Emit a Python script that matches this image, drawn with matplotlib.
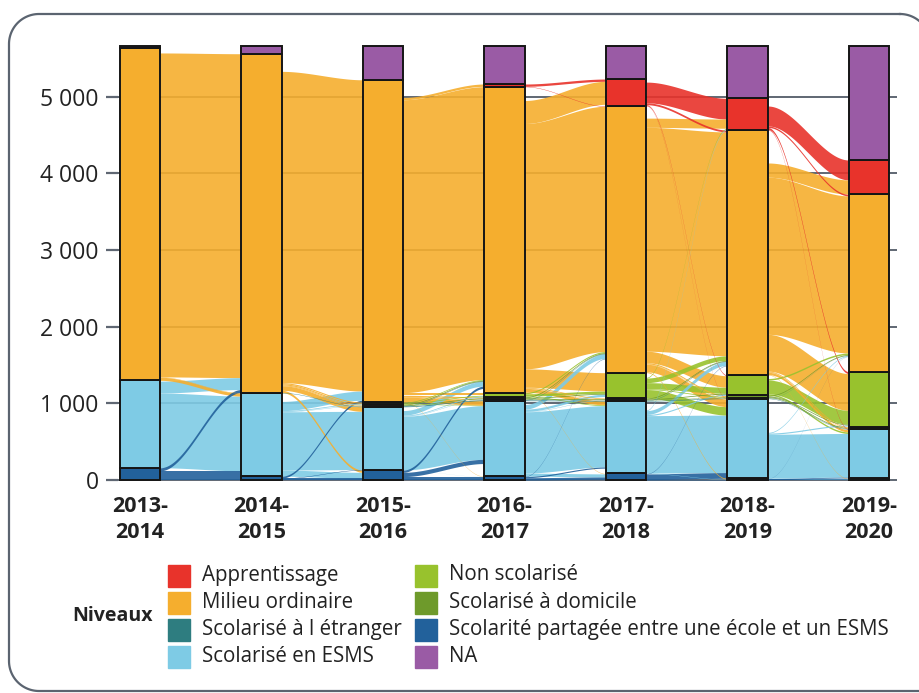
import numpy as np
import matplotlib.pyplot as plt
from matplotlib.patches import Rectangle

plt.rcParams['font.family'] = ['Open Sans', 'DejaVu Sans']

years = ['2013-\n2014', '2014-\n2015', '2015-\n2016', '2016-\n2017',
         '2017-\n2018', '2018-\n2019', '2019-\n2020']

keys = ['App', 'MO', 'NS', 'Dom', 'Etr', 'ESMS', 'Part', 'NA']
labels = {'App': 'Apprentissage', 'MO': 'Milieu ordinaire', 'NS': 'Non scolarisé',
          'Dom': 'Scolarisé à domicile', 'Etr': 'Scolarisé à l étranger',
          'ESMS': 'Scolarisé en ESMS',
          'Part': 'Scolarité partagée entre une école et un ESMS', 'NA': 'NA'}
colors = {'App': '#e8332b', 'MO': '#f5ae2e', 'NS': '#98c22d', 'Dom': '#6e9a2b',
          'Etr': '#2e7d80', 'ESMS': '#7ecbe5', 'Part': '#22619b', 'NA': '#9a5ba5'}
# bottom -> top
stack = ['Part', 'ESMS', 'Etr', 'Dom', 'NS', 'MO', 'App', 'NA']
legend_order = ['App', 'MO', 'Etr', 'ESMS', 'NS', 'Dom', 'Part', 'NA']

# number of pupils per level and per school year
counts = [
    {'App': 0, 'MO': 4340, 'NS': 0, 'Dom': 0, 'Etr': 0, 'ESMS': 1140, 'Part': 160, 'NA': 20},
    {'App': 0, 'MO': 4420, 'NS': 0, 'Dom': 0, 'Etr': 5, 'ESMS': 1085, 'Part': 50, 'NA': 100},
    {'App': 0, 'MO': 4204, 'NS': 25, 'Dom': 20, 'Etr': 15, 'ESMS': 826, 'Part': 130, 'NA': 440},
    {'App': 35, 'MO': 3990, 'NS': 55, 'Dom': 30, 'Etr': 20, 'ESMS': 985, 'Part': 50, 'NA': 495},
    {'App': 350, 'MO': 3480, 'NS': 330, 'Dom': 25, 'Etr': 15, 'ESMS': 945, 'Part': 85, 'NA': 430},
    {'App': 413, 'MO': 3195, 'NS': 266, 'Dom': 30, 'Etr': 12, 'ESMS': 1040, 'Part': 22, 'NA': 682},
    {'App': 448, 'MO': 2313, 'NS': 718, 'Dom': 20, 'Etr': 10, 'ESMS': 645, 'Part': 20, 'NA': 1486},
]

# transitions between consecutive years: (from, to, pupils)
flows_13_14 = [('MO', 'MO', 4225), ('MO', 'NA', 70), ('MO', 'ESMS', 40), ('MO', 'Etr', 5),
               ('ESMS', 'ESMS', 975), ('ESMS', 'MO', 155), ('ESMS', 'NA', 10),
               ('Part', 'Part', 50), ('Part', 'MO', 40), ('Part', 'ESMS', 70),
               ('NA', 'NA', 20)]
flows_14_15 = [('MO', 'MO', 4060), ('MO', 'NA', 230), ('MO', 'NS', 15), ('MO', 'Dom', 15),
               ('MO', 'Etr', 10), ('MO', 'ESMS', 60), ('MO', 'Part', 30),
               ('Etr', 'Etr', 5),
               ('ESMS', 'ESMS', 760), ('ESMS', 'MO', 120), ('ESMS', 'NA', 110),
               ('ESMS', 'Part', 80), ('ESMS', 'NS', 10), ('ESMS', 'Dom', 5),
               ('Part', 'MO', 24), ('Part', 'ESMS', 6), ('Part', 'Part', 20),
               ('NA', 'NA', 100)]
flows_15_16 = [('MO', 'MO', 3820), ('MO', 'NA', 230), ('MO', 'App', 30), ('MO', 'NS', 35),
               ('MO', 'Dom', 15), ('MO', 'Etr', 10), ('MO', 'ESMS', 60), ('MO', 'Part', 4),
               ('NS', 'NS', 10), ('NS', 'MO', 10), ('NS', 'ESMS', 5),
               ('Dom', 'Dom', 10), ('Dom', 'MO', 10),
               ('Etr', 'Etr', 10), ('Etr', 'MO', 5),
               ('ESMS', 'ESMS', 700), ('ESMS', 'MO', 60), ('ESMS', 'NA', 50),
               ('ESMS', 'NS', 10), ('ESMS', 'Dom', 5), ('ESMS', 'Part', 1),
               ('Part', 'Part', 45), ('Part', 'ESMS', 55), ('Part', 'MO', 30),
               ('NA', 'NA', 215), ('NA', 'MO', 55), ('NA', 'ESMS', 165), ('NA', 'App', 5)]
flows_16_17 = [('App', 'App', 30), ('App', 'MO', 5),
               ('MO', 'MO', 3200), ('MO', 'App', 300), ('MO', 'NA', 180), ('MO', 'NS', 240),
               ('MO', 'Dom', 10), ('MO', 'Etr', 5), ('MO', 'ESMS', 50), ('MO', 'Part', 5),
               ('NS', 'NS', 30), ('NS', 'MO', 15), ('NS', 'ESMS', 10),
               ('Dom', 'Dom', 10), ('Dom', 'MO', 10), ('Dom', 'NS', 10),
               ('Etr', 'Etr', 10), ('Etr', 'MO', 5), ('Etr', 'NA', 5),
               ('ESMS', 'ESMS', 800), ('ESMS', 'MO', 60), ('ESMS', 'NA', 50),
               ('ESMS', 'NS', 30), ('ESMS', 'Part', 40), ('ESMS', 'Dom', 5),
               ('Part', 'Part', 30), ('Part', 'ESMS', 15), ('Part', 'MO', 5),
               ('NA', 'NA', 195), ('NA', 'MO', 180), ('NA', 'App', 20), ('NA', 'NS', 20),
               ('NA', 'ESMS', 70), ('NA', 'Part', 10)]
flows_17_18 = [('App', 'App', 270), ('App', 'NA', 40), ('App', 'MO', 25), ('App', 'NS', 10),
               ('App', 'ESMS', 5),
               ('MO', 'MO', 2920), ('MO', 'NA', 160), ('MO', 'App', 120), ('MO', 'NS', 150),
               ('MO', 'Dom', 15), ('MO', 'Etr', 5), ('MO', 'ESMS', 100), ('MO', 'Part', 10),
               ('NS', 'NS', 80), ('NS', 'MO', 60), ('NS', 'ESMS', 110), ('NS', 'NA', 60),
               ('NS', 'Dom', 10), ('NS', 'App', 10),
               ('Dom', 'Dom', 5), ('Dom', 'MO', 10), ('Dom', 'NS', 10),
               ('Etr', 'Etr', 7), ('Etr', 'MO', 5), ('Etr', 'NA', 3),
               ('ESMS', 'ESMS', 750), ('ESMS', 'MO', 50), ('ESMS', 'NA', 115),
               ('ESMS', 'NS', 15), ('ESMS', 'Part', 5), ('ESMS', 'App', 10),
               ('Part', 'Part', 5), ('Part', 'ESMS', 75), ('Part', 'MO', 5),
               ('NA', 'NA', 304), ('NA', 'MO', 120), ('NA', 'App', 3), ('NA', 'NS', 1),
               ('NA', 'Part', 2)]
flows_18_19 = [('App', 'App', 260), ('App', 'NA', 100), ('App', 'MO', 20), ('App', 'NS', 25),
               ('App', 'ESMS', 8),
               ('MO', 'MO', 2050), ('MO', 'NA', 430), ('MO', 'App', 185), ('MO', 'NS', 480),
               ('MO', 'Dom', 10), ('MO', 'Etr', 5), ('MO', 'ESMS', 30), ('MO', 'Part', 5),
               ('NS', 'NS', 180), ('NS', 'MO', 20), ('NS', 'ESMS', 20), ('NS', 'NA', 46),
               ('Dom', 'Dom', 10), ('Dom', 'MO', 10), ('Dom', 'NS', 10),
               ('Etr', 'Etr', 5), ('Etr', 'NA', 5), ('Etr', 'MO', 2),
               ('ESMS', 'ESMS', 570), ('ESMS', 'NA', 440), ('ESMS', 'MO', 10),
               ('ESMS', 'NS', 15), ('ESMS', 'Part', 5),
               ('Part', 'Part', 10), ('Part', 'ESMS', 10), ('Part', 'MO', 2),
               ('NA', 'NA', 465), ('NA', 'MO', 199), ('NA', 'App', 3), ('NA', 'NS', 8),
               ('NA', 'ESMS', 7)]
transitions = [flows_13_14, flows_14_15, flows_15_16, flows_16_17, flows_17_18, flows_18_19]

bar_w = 0.335
xs = np.arange(1, len(years) + 1)

fig = plt.figure(figsize=(9.19, 6.93), dpi=100)
ax = fig.add_axes([118 / 919, 1 - 485 / 693, (897 - 118) / 919, (485 - 40) / 693])


def stratum_bottoms(cnt):
    bottoms = {}
    y = 0
    for k in stack:
        bottoms[k] = y
        y += cnt[k]
    return bottoms


bottoms = [stratum_bottoms(c) for c in counts]

# flows: leaving to NA sits on top of the source stratum,
# coming back from NA sits at the bottom of the target stratum
rank = {k: i for i, k in enumerate(stack)}
in_rank = dict(rank, NA=-1)
t = np.linspace(0, 1, 80)
s = 3 * t ** 2 - 2 * t ** 3
for i, flows in enumerate(transitions):
    top_src = {k: bottoms[i][k] + counts[i][k] for k in keys}
    top_tgt = {k: bottoms[i + 1][k] + counts[i + 1][k] for k in keys}
    src_pos, tgt_pos = {}, {}
    for f in sorted(flows, key=lambda f: (rank[f[0]], -rank[f[1]])):
        a, b, n = f
        src_pos[f] = (top_src[a] - n, top_src[a])
        top_src[a] -= n
    for f in sorted(flows, key=lambda f: (rank[f[1]], -in_rank[f[0]])):
        a, b, n = f
        tgt_pos[f] = (top_tgt[b] - n, top_tgt[b])
        top_tgt[b] -= n
    x0 = xs[i] + bar_w / 2
    x1 = xs[i + 1] - bar_w / 2
    xx = x0 + (x1 - x0) * t
    for f in sorted(flows, key=lambda f: -f[2]):
        a, b, n = f
        if a == 'NA' or b == 'NA':
            continue
        lo = src_pos[f][0] + (tgt_pos[f][0] - src_pos[f][0]) * s
        hi = src_pos[f][1] + (tgt_pos[f][1] - src_pos[f][1]) * s
        ax.fill_between(xx, lo, hi, color=colors[a], alpha=0.9, lw=0, zorder=2)

# strata
for i, cnt in enumerate(counts):
    for k in stack:
        if cnt[k] > 0:
            ax.bar(xs[i], cnt[k], bottom=bottoms[i][k], width=bar_w, color=colors[k],
                   edgecolor='#151515', linewidth=1.4, zorder=3)

ax.set_xlim(xs[0] - 0.18, xs[-1] + 0.23)
ax.set_ylim(-65, 5739)
yt = [0, 1000, 2000, 3000, 4000, 5000]
ax.set_yticks(yt)
ax.set_yticklabels([f'{v:,}'.replace(',', ' ') for v in yt], fontsize=16.5, color='#222222')
ax.set_xticks(xs)
ax.set_xticklabels(years, fontsize=15.5, fontweight='bold', color='#222222', linespacing=1.3)
ax.tick_params(axis='x', length=0, pad=8)
ax.tick_params(axis='y', length=9, width=1.6, color='#5f6773', pad=5)
ax.yaxis.grid(True, color='#5f6773', linewidth=1.4)
ax.set_axisbelow(True)
for sp in ax.spines.values():
    sp.set_visible(False)

# overlay in pixel units for frame and legend
ov = fig.add_axes([0, 0, 1, 1], zorder=5)
ov.set_xlim(0, 919)
ov.set_ylim(693, 0)
ov.axis('off')
ov.patch.set_alpha(0)

# rounded frame: left side, top and bottom; the right side runs off the picture
r = 30
left, top, low = 9, 14, 691
a = np.linspace(0, np.pi / 2, 30)
fx = np.concatenate([[900], left + r - r * np.sin(a), left + r - r * np.cos(a), [919]])
fy = np.concatenate([[top], top + r - r * np.cos(a), low - r + r * np.sin(a), [low]])
ov.plot(fx, fy, color='#5b6470', linewidth=1.6)
arc = np.linspace(0, np.arcsin(19 / r), 20)
ov.plot(900 + r * np.sin(arc), top + r - r * np.cos(arc), color='#5b6470', linewidth=1.6)

ov.text(72, 616, 'Niveaux', fontsize=14, fontweight='bold', color='#222222', va='center')
row_y = [576, 603, 630, 657]
for j, k in enumerate(legend_order):
    col_x = 168 if j < 4 else 415
    y = row_y[j % 4]
    ov.add_patch(Rectangle((col_x, y - 11), 22, 22, color=colors[k]))
    ov.text(col_x + 34, y - 1, labels[k], fontsize=14.8, color='#222222', va='center')

fig.savefig('out.png', dpi=100)
